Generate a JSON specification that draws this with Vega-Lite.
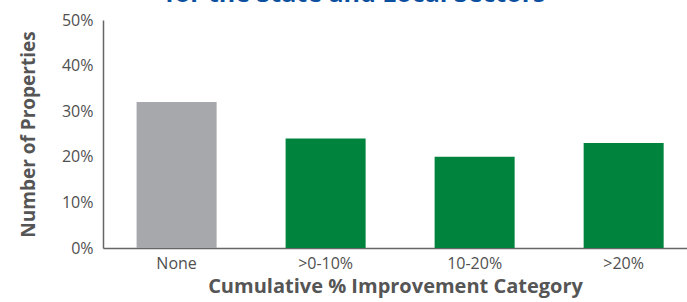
{
  "$schema": "https://vega.github.io/schema/vega-lite/v6.json",
  "autosize": {"type": "none"},
  "padding": {"left": 103, "top": 20, "right": 0, "bottom": 54},
  "width": 584,
  "height": 228,
  "background": "white",
  "title": {
    "text": "for the State and Local Sectors",
    "anchor": "start",
    "frame": "group",
    "dx": 62,
    "dy": 24,
    "baseline": "bottom",
    "offset": 4,
    "font": "Open Sans",
    "fontSize": 25,
    "fontWeight": "bold",
    "color": "#0b4f9f"
  },
  "data": {
    "values": [
      {"category": "None", "share": 0.32, "group": "none"},
      {"category": ">0-10%", "share": 0.24, "group": "improved"},
      {"category": "10-20%", "share": 0.20, "group": "improved"},
      {"category": ">20%", "share": 0.23, "group": "improved"}
    ]
  },
  "mark": {"type": "bar"},
  "encoding": {
    "x": {
      "field": "category",
      "type": "nominal",
      "sort": null,
      "scale": {"paddingInner": 0.463, "paddingOuter": 0.191, "align": 0.59},
      "axis": {
        "title": "Cumulative % Improvement Category",
        "labelAngle": 0,
        "labelFont": "Open Sans",
        "labelFontSize": 16,
        "labelColor": "#505050",
        "labelFontWeight": "normal",
        "labelPadding": 7,
        "ticks": false,
        "domainColor": "#666666",
        "domainWidth": 1.5,
        "titleFont": "Open Sans",
        "titleFontSize": 20,
        "titleFontWeight": "bold",
        "titleColor": "#555555",
        "titlePadding": 5
      }
    },
    "y": {
      "field": "share",
      "type": "quantitative",
      "scale": {"domain": [0, 0.5]},
      "axis": {
        "title": "Number of Properties",
        "format": ".0%",
        "values": [0, 0.1, 0.2, 0.3, 0.4, 0.5],
        "grid": false,
        "ticks": false,
        "labelFont": "Open Sans",
        "labelFontSize": 16,
        "labelColor": "#505050",
        "labelPadding": 10,
        "domainColor": "#666666",
        "domainWidth": 1.5,
        "titleFont": "Open Sans",
        "titleFontSize": 19,
        "titleFontWeight": "bold",
        "titleColor": "#555555",
        "titlePadding": 23
      }
    },
    "color": {
      "field": "group",
      "type": "nominal",
      "scale": {"domain": ["none", "improved"], "range": ["#a7a8ab", "#00843d"]},
      "legend": null
    }
  },
  "config": {"view": {"stroke": null}}
}
